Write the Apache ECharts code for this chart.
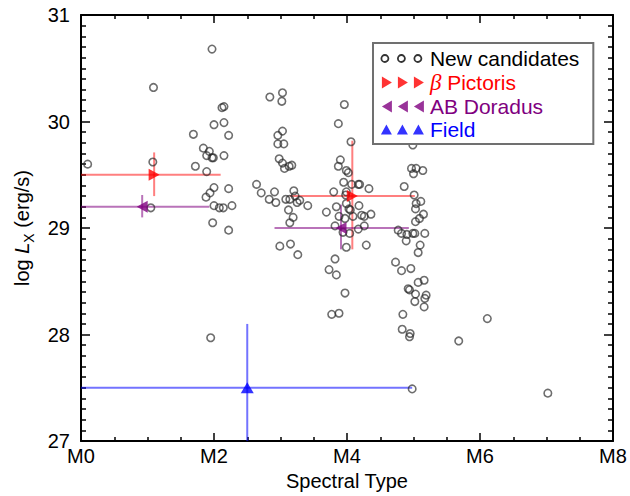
<!DOCTYPE html>
<html>
<head>
<meta charset="utf-8">
<script src="https://cdn.jsdelivr.net/npm/echarts@6/dist/echarts.min.js"></script>
<style>html,body{margin:0;padding:0;background:#fff}#c{width:630px;height:496px}</style>
</head>
<body>
<div id="c"></div>
<script>
// New candidates (spectral subtype, log Lx)
const candX = [0.10,1.09,1.08,1.05,1.97,2.12,2.15,2.00,2.15,1.69,2.22,1.84,1.93,1.89,1.97,1.99,2.15,1.72,1.89,2.00,2.22,1.88,1.94,2.00,2.08,2.14,2.27,1.98,2.22,1.95,
 2.64,2.71,2.83,2.91,2.93,3.08,3.14,3.20,3.22,3.25,3.29,3.12,3.19,3.14,3.41,2.84,3.03,3.02,3.03,2.96,2.96,3.05,2.98,3.03,3.13,3.17,3.06,2.99,3.15,3.26,
 3.96,3.87,4.06,3.90,3.87,3.99,4.02,3.95,4.07,4.17,4.19,4.33,3.80,3.99,3.98,3.69,3.84,3.99,4.03,4.05,4.18,3.88,3.97,4.09,4.22,4.26,4.36,3.82,4.26,4.17,
 3.94,4.04,4.29,3.99,3.82,3.73,3.84,3.97,3.77,3.88,
 4.99,5.20,4.97,5.04,5.00,5.14,4.86,5.01,5.04,5.11,5.03,5.15,5.09,5.03,4.77,4.82,4.90,4.99,5.02,5.17,4.89,5.10,5.07,4.73,4.82,4.96,5.07,5.16,4.92,4.94,
 5.03,5.19,5.17,5.02,5.16,4.84,4.83,4.95,4.94,4.98,5.68,6.11,7.02];
const candY = [29.60,30.32,29.62,29.19,30.68,30.13,30.14,29.97,29.99,29.88,29.87,29.75,29.72,29.68,29.66,29.66,29.68,29.58,29.53,29.38,29.37,29.29,29.33,29.21,29.19,29.19,29.21,29.05,28.98,27.97,
 29.41,29.33,29.27,29.34,29.24,29.27,29.27,29.35,29.30,29.24,29.26,29.17,29.10,29.05,29.21,30.23,30.27,30.19,29.91,29.87,29.79,29.79,29.65,29.61,29.58,29.59,29.56,28.83,28.85,28.75,
 30.16,29.98,29.81,29.64,29.58,29.54,29.52,29.43,29.41,29.41,29.41,29.37,29.34,29.34,29.31,29.15,29.20,29.23,29.18,29.17,29.21,29.11,29.09,29.11,29.12,29.11,29.13,29.02,29.02,28.99,
 28.96,28.95,28.84,28.82,28.71,28.61,28.56,28.39,28.19,28.20,
 29.78,29.97,29.56,29.56,29.51,29.54,29.39,29.31,29.23,29.25,29.18,29.13,29.09,29.06,28.98,28.95,28.94,28.95,28.95,28.95,28.88,28.84,28.77,28.68,28.60,28.62,28.49,28.51,28.43,28.42,
 28.38,28.37,28.34,28.31,28.26,28.19,28.05,28.01,27.98,27.49,27.94,28.15,27.45];

// beta Pictoris
const bpicX = [1.10, 4.08];
const bpicY = [29.50, 29.30];
const bpicXLo = [0.00, 3.14];
const bpicXHi = [2.10, 5.02];
const bpicYLo = [29.30, 28.80];
const bpicYHi = [29.71, 29.82];
// AB Doradus
const abdX = [0.92, 3.91];
const abdY = [29.20, 29.00];
const abdXLo = [0.00, 2.91];
const abdXHi = [1.93, 4.93];
const abdYLo = [29.10, 28.80];
const abdYHi = [29.31, 29.22];
// Field
const fldX = [2.50];
const fldY = [27.50];
const fldXLo = [0.00];
const fldXHi = [4.98];
const fldYLo = [27.00];
const fldYHi = [28.10];

const xTickLabels = ['M0','M2','M4','M6','M8'];

const FONT = 'Liberation Sans, Arial, Helvetica, sans-serif';

function errSeries(name, xs, ys, xlo, xhi, ylo, yhi, color) {
  return {
    type: 'custom', name: name, silent: true, z: 1,
    data: xs.map((x, i) => [x, ys[i], xlo[i], xhi[i], ylo[i], yhi[i]]),
    encode: {x: [0, 2, 3], y: [1, 4, 5]},
    renderItem: function (params, api) {
      const x = api.value(0), y = api.value(1);
      const a = api.coord([api.value(2), y]), b = api.coord([api.value(3), y]);
      const c = api.coord([x, api.value(4)]), d = api.coord([x, api.value(5)]);
      return {type: 'group', children: [
        {type: 'line', shape: {x1: a[0], y1: a[1], x2: b[0], y2: b[1]}, style: {stroke: color, lineWidth: 2}},
        {type: 'line', shape: {x1: c[0], y1: c[1], x2: d[0], y2: d[1]}, style: {stroke: color, lineWidth: 2}}
      ]};
    }
  };
}

const circIcon = 'path://M0,0 M44,14 M0.5,7 a3.5,3.5 0 1,0 7,0 a3.5,3.5 0 1,0 -7,0 M17,7 a3.5,3.5 0 1,0 7,0 a3.5,3.5 0 1,0 -7,0 M33.5,7 a3.5,3.5 0 1,0 7,0 a3.5,3.5 0 1,0 -7,0';
const rightIcon = 'path://M0,0 M44,14 M1,1 L11,7 L1,13 Z M17,1 L27,7 L17,13 Z M33,1 L43,7 L33,13 Z';
const leftIcon = 'path://M0,0 M44,14 M11,1 L1,7 L11,13 Z M27,1 L17,7 L27,13 Z M43,1 L33,7 L43,13 Z';
const upIcon = 'path://M0,0 M44,14 M0,12 L5.5,2 L11,12 Z M16,12 L21.5,2 L27,12 Z M32,12 L37.5,2 L43,12 Z';

const axisCommon = {
  min: 0, max: 8, interval: 2,
  axisLine: {show: true, onZero: false, lineStyle: {color: '#000', width: 2}},
  axisTick: {show: true, inside: true, length: 8, lineStyle: {color: '#000', width: 1.5}},
  minorTick: {show: true, splitNumber: 4, length: 4, lineStyle: {color: '#000', width: 1.5}},
  splitLine: {show: false}
};
const yCommon = {
  min: 27, max: 31, interval: 1,
  axisLine: {show: true, onZero: false, lineStyle: {color: '#000', width: 2}},
  axisTick: {show: true, inside: true, length: 9, lineStyle: {color: '#000', width: 1.5}},
  minorTick: {show: true, splitNumber: 10, length: 5, lineStyle: {color: '#000', width: 1.5}},
  splitLine: {show: false}
};

const chart = echarts.init(document.getElementById('c'), null, {renderer: 'svg'});
chart.setOption({
  animation: false,
  backgroundColor: '#fff',
  textStyle: {fontFamily: FONT},
  grid: {left: 81, right: 17, top: 15, bottom: 48, containLabel: false},
  xAxis: [
    Object.assign({}, axisCommon, {
      type: 'value', position: 'bottom',
      name: 'Spectral Type', nameLocation: 'middle', nameGap: 27,
      nameTextStyle: {fontSize: 20, color: '#000', fontFamily: FONT},
      axisLabel: {show: true, margin: 5, fontSize: 20, color: '#000', fontFamily: FONT,
        formatter: v => xTickLabels[Math.round(v / 2)]}
    }),
    Object.assign({}, axisCommon, {type: 'value', position: 'top', axisLabel: {show: false}})
  ],
  yAxis: [
    Object.assign({}, yCommon, {
      type: 'value', position: 'left',
      name: 'log {i|L}{s|X} (erg/s)', nameLocation: 'middle', nameGap: 45,
      nameTextStyle: {fontSize: 20, color: '#000', fontFamily: FONT, lineHeight: 28,
        rich: {
          i: {fontSize: 20, fontStyle: 'italic', color: '#000', fontFamily: FONT, lineHeight: 28},
          s: {fontSize: 14, color: '#000', fontFamily: FONT, verticalAlign: 'bottom', lineHeight: 14}
        }},
      axisLabel: {show: true, margin: 11, fontSize: 20, color: '#000', fontFamily: FONT}
    }),
    Object.assign({}, yCommon, {type: 'value', position: 'right', axisLabel: {show: false}})
  ],
  legend: {
    orient: 'vertical', left: 373, top: 43,
    itemWidth: 44, itemHeight: 14, itemGap: 2,
    padding: [5, 14, 4, 7],
    borderColor: '#707070', borderWidth: 2, backgroundColor: '#fff',
    selectedMode: false,
    textStyle: {fontSize: 21, fontFamily: FONT, lineHeight: 20, height: 20,
      rich: {b: {fontSize: 23, fontStyle: 'italic', fontFamily: 'Liberation Serif, Times New Roman, serif', color: '#ff0000', lineHeight: 20}}},
    formatter: function (name) { return name === 'β Pictoris' ? '{b|β} Pictoris' : name; },
    data: [
      {name: 'New candidates', icon: circIcon, itemStyle: {color: 'rgba(0,0,0,0)', borderColor: '#000', borderWidth: 1.8}, textStyle: {color: '#000'}},
      {name: 'β Pictoris', icon: rightIcon, itemStyle: {color: '#ff0000', borderWidth: 0}, textStyle: {color: '#ff0000'}},
      {name: 'AB Doradus', icon: leftIcon, itemStyle: {color: '#800080', borderWidth: 0}, textStyle: {color: '#800080'}},
      {name: 'Field', icon: upIcon, itemStyle: {color: '#0000ff', borderWidth: 0}, textStyle: {color: '#0000ff'}}
    ]
  },
  series: [
    errSeries('bpicErr', bpicX, bpicY, bpicXLo, bpicXHi, bpicYLo, bpicYHi, 'rgba(255,0,0,0.5)'),
    errSeries('abdErr', abdX, abdY, abdXLo, abdXHi, abdYLo, abdYHi, 'rgba(128,0,128,0.55)'),
    errSeries('fldErr', fldX, fldY, fldXLo, fldXHi, fldYLo, fldYHi, 'rgba(0,0,255,0.55)'),
    {
      name: 'New candidates', type: 'scatter', z: 2,
      symbol: 'circle', symbolSize: 7.5,
      itemStyle: {color: 'rgba(0,0,0,0)', borderColor: 'rgba(40,40,40,0.85)', borderWidth: 1.6},
      data: candX.map((x, i) => [x, candY[i]])
    },
    {
      name: 'β Pictoris', type: 'scatter', z: 3,
      symbol: 'triangle', symbolSize: [12, 11], symbolRotate: -90,
      itemStyle: {color: '#ff0000'},
      data: bpicX.map((x, i) => [x, bpicY[i]])
    },
    {
      name: 'AB Doradus', type: 'scatter', z: 3,
      symbol: 'triangle', symbolSize: [12, 11], symbolRotate: 90,
      itemStyle: {color: '#800080'},
      data: abdX.map((x, i) => [x, abdY[i]])
    },
    {
      name: 'Field', type: 'scatter', z: 3,
      symbol: 'triangle', symbolSize: [13, 11],
      itemStyle: {color: '#0000ff'},
      data: fldX.map((x, i) => [x, fldY[i]])
    }
  ]
});
</script>
</body>
</html>
